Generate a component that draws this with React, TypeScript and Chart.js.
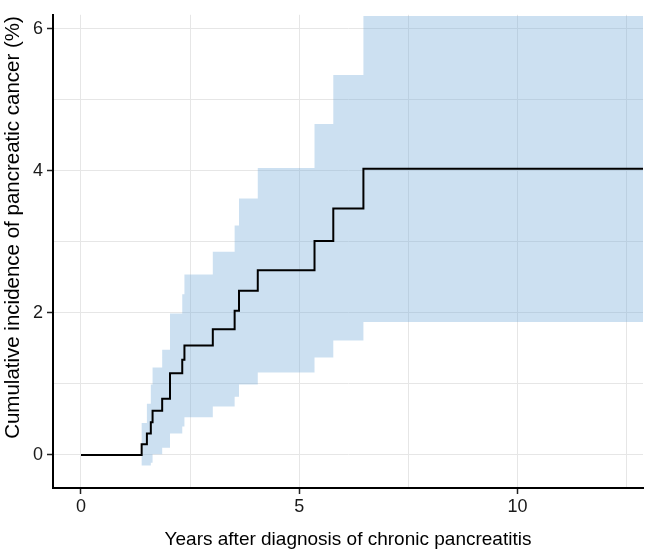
import React, { useEffect, useRef } from 'react';
import { Chart, registerables } from 'chart.js';

Chart.register(...registerables);

// Years after diagnosis (event times) — shared by curve and CI band
const times = [0, 1.39, 1.51, 1.6, 1.64, 1.86, 2.04, 2.32, 2.37, 3.02, 3.52, 3.62, 4.05, 5.35, 5.78, 6.47, 12.875];
// Cumulative incidence (%)
const incidence = [0, 0.15, 0.3, 0.46, 0.62, 0.79, 1.15, 1.34, 1.54, 1.77, 2.03, 2.31, 2.6, 3.01, 3.47, 4.03, 4.03];
// 95% CI upper bound (%)
const upperCI = [0, 0.45, 0.72, 0.99, 1.23, 1.48, 1.99, 2.26, 2.54, 2.86, 3.23, 3.61, 4.04, 4.66, 5.35, 6.18, 6.18];
// 95% CI lower bound (%)
const lowerCI = [0, -0.15, -0.15, -0.11, 0.01, 0.1, 0.3, 0.4, 0.53, 0.68, 0.82, 0.99, 1.16, 1.37, 1.61, 1.87, 1.87];

const xTickValues = [0, 2.5, 5, 7.5, 10, 12.5];
const xMajorTicks = [0, 5, 10];
const yTickValues = [0, 1, 2, 3, 4, 5, 6];
const yMajorTicks = [0, 2, 4, 6];

const xTitle = 'Years after diagnosis of chronic pancreatitis';
const yTitle = 'Cumulative incidence of pancreatic cancer (%)';

const FONT = '"Liberation Sans", Arial, sans-serif';

const yTitlePlugin = {
  id: 'yTitleText',
  afterDraw(chart: any) {
    const { ctx } = chart;
    ctx.save();
    ctx.translate(13, 227.5);
    ctx.rotate(-Math.PI / 2);
    ctx.textAlign = 'center';
    ctx.textBaseline = 'middle';
    ctx.fillStyle = '#000000';
    ctx.font = `20.5px ${FONT}`;
    ctx.fillText(yTitle, 0, 0);
    ctx.restore();
  },
};

export default function App() {
  const canvasRef = useRef<HTMLCanvasElement | null>(null);

  useEffect(() => {
    const canvas = canvasRef.current;
    if (!canvas) return;
    const pts = (vals: number[]) => times.map((t, i) => ({ x: t, y: vals[i] }));
    const chart = new Chart(canvas, {
      type: 'line',
      data: {
        datasets: [
          {
            label: 'Cumulative incidence',
            data: pts(incidence),
            borderColor: '#000000',
            borderWidth: 2,
            pointRadius: 0,
            stepped: 'before',
            fill: false,
          },
          {
            label: 'Upper CI',
            data: pts(upperCI),
            borderWidth: 0,
            borderColor: 'rgba(0,0,0,0)',
            backgroundColor: 'rgba(109,166,215,0.35)',
            pointRadius: 0,
            stepped: 'before',
            fill: '+1',
          },
          {
            label: 'Lower CI',
            data: pts(lowerCI),
            borderWidth: 0,
            borderColor: 'rgba(0,0,0,0)',
            pointRadius: 0,
            stepped: 'before',
            fill: false,
          },
        ],
      },
      options: {
        responsive: false,
        animation: false,
        layout: { padding: { left: 0, right: 2, top: 2, bottom: 0 } },
        plugins: {
          legend: { display: false },
          tooltip: { enabled: false },
        },
        scales: {
          x: {
            type: 'linear',
            min: -0.641,
            max: 12.875,
            afterBuildTicks: (scale: any) => {
              scale.ticks = xTickValues.map((v) => ({ value: v }));
            },
            afterFit: (scale: any) => {
              scale.height = 66;
            },
            border: { display: true, color: '#000000', width: 2 },
            grid: {
              color: '#e6e6e6',
              lineWidth: 1,
              drawTicks: true,
              tickLength: 6,
              tickWidth: 1.5,
              tickColor: (ctx: any) =>
                ctx.tick && xMajorTicks.includes(ctx.tick.value) ? '#222222' : 'rgba(0,0,0,0)',
            },
            ticks: {
              autoSkip: false,
              maxRotation: 0,
              padding: 2,
              color: '#1a1a1a',
              font: { family: FONT, size: 18 },
              callback: (v: any) => (xMajorTicks.includes(Number(v)) ? String(v) : ''),
            },
            title: {
              display: true,
              text: xTitle,
              color: '#000000',
              font: { family: FONT, size: 19 },
              padding: { top: 4, bottom: 3 },
            },
          },
          y: {
            type: 'linear',
            min: -0.466,
            max: 6.196,
            afterBuildTicks: (scale: any) => {
              scale.ticks = yTickValues.map((v) => ({ value: v }));
            },
            afterFit: (scale: any) => {
              scale.width = 53;
            },
            border: { display: true, color: '#000000', width: 2 },
            grid: {
              color: '#e6e6e6',
              lineWidth: 1,
              drawTicks: true,
              tickLength: 6,
              tickWidth: 1.5,
              tickColor: (ctx: any) =>
                ctx.tick && yMajorTicks.includes(ctx.tick.value) ? '#222222' : 'rgba(0,0,0,0)',
            },
            ticks: {
              autoSkip: false,
              padding: 4,
              color: '#1a1a1a',
              font: { family: FONT, size: 18 },
              callback: (v: any) => (yMajorTicks.includes(Number(v)) ? String(v) : ''),
            },
            title: { display: false },
          },
        },
      },
      plugins: [yTitlePlugin],
    });
    return () => chart.destroy();
  }, []);

  return (
    <div style={{ position: 'fixed', left: 0, top: 0, width: 645, height: 554, background: '#ffffff' }}>
      <canvas ref={canvasRef} width={645} height={554} style={{ display: 'block' }} />
    </div>
  );
}
